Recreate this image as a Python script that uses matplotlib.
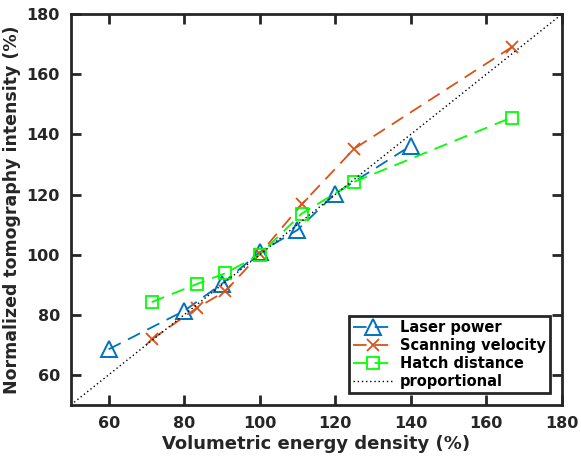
#!/usr/bin/env python3
"""Normalized tomography intensity vs volumetric energy density."""

import matplotlib
matplotlib.use("Agg")
import matplotlib.pyplot as plt

# Laser power series
laser_x = [60, 80, 90, 100, 110, 120, 140]
laser_y = [68.5, 81.3, 90.3, 100.8, 108.2, 120.3, 136.2]

# Scanning velocity series
velocity_x = [71.4, 83.3, 90.9, 100, 111.1, 125, 166.7]
velocity_y = [71.8, 82.2, 87.8, 100.2, 116.7, 135.2, 169.0]

# Hatch distance series
hatch_x = [71.4, 83.3, 90.9, 100, 111.1, 125, 166.7]
hatch_y = [84.2, 90.2, 93.8, 100.0, 113.6, 124.2, 145.6]

prop_x = [50, 180]

BLUE = "#0072BD"
ORANGE = "#D95319"
GREEN = "#00FF00"
AXC = "#262626"

plt.rcParams["font.family"] = ["DejaVu Sans"]
plt.rcParams["font.weight"] = "bold"

fig = plt.figure(figsize=(5.81, 4.57), dpi=100)
ax = fig.add_axes([0.122, 0.114, 0.845, 0.855])

dash = (0, (7.5, 4.5))
ax.plot(laser_x, laser_y, linestyle=dash, color=BLUE, lw=1.3, marker="^",
        markersize=11, markerfacecolor="none", markeredgewidth=1.4,
        label="Laser power")
ax.plot(velocity_x, velocity_y, linestyle=dash, color=ORANGE, lw=1.3, marker="x",
        markersize=8, markeredgewidth=1.3, label="Scanning velocity")
ax.plot(hatch_x, hatch_y, linestyle=dash, color=GREEN, lw=1.3, marker="s",
        markersize=8, markerfacecolor="none", markeredgewidth=1.3,
        label="Hatch distance")
ax.plot(prop_x, prop_x, linestyle=(0, (1, 2)), color="black", lw=1.0,
        label="proportional")

ax.set_xlim(50, 180)
ax.set_ylim(50, 180)
ax.set_xticks(range(60, 181, 20))
ax.set_yticks(range(60, 181, 20))
ax.tick_params(direction="in", length=7, width=2, colors=AXC, labelsize=11.5,
               top=True, right=True, pad=8)
for lab in ax.get_xticklabels() + ax.get_yticklabels():
    lab.set_fontweight("bold")
    lab.set_color(AXC)
for sp in ax.spines.values():
    sp.set_linewidth(2)
    sp.set_color(AXC)

ax.set_xlabel("Volumetric energy density (%)", fontsize=13, fontweight="bold",
              color=AXC, labelpad=3)
ax.set_ylabel("Normalized tomography intensity (%)", fontsize=12.5,
              fontweight="bold", color=AXC, labelpad=4)

leg = ax.legend(loc="lower right", fontsize=10.5, fancybox=False,
                framealpha=1, edgecolor=AXC, borderpad=0.3, labelspacing=0.2,
                handlelength=2.7, handletextpad=0.5, borderaxespad=0.8)
leg.get_frame().set_linewidth(2)
for t in leg.get_texts():
    t.set_fontweight("bold")

fig.savefig("out.png", dpi=100)
